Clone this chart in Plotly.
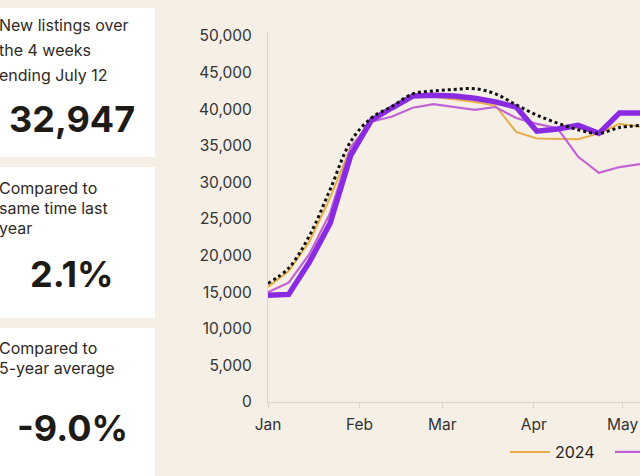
import plotly.graph_objects as go

# week dates (aligned calendar, one point per week)
weeks = ["2025-01-01", "2025-01-08", "2025-01-15", "2025-01-22", "2025-01-29",
         "2025-02-05", "2025-02-12", "2025-02-19", "2025-02-26", "2025-03-05",
         "2025-03-12", "2025-03-19", "2025-03-26", "2025-04-02", "2025-04-09",
         "2025-04-16", "2025-04-23", "2025-04-30", "2025-05-07"]

listings_2025 = [14600, 14700, 19100, 24400, 33700, 38500, 40200, 41800, 41900, 41800,
                 41500, 41000, 40300, 37000, 37300, 37800, 36700, 39500, 39500]
listings_2024 = [15700, 17900, 21900, 27900, 34800, 38500, 40000, 41800, 41700, 41400,
                 41000, 40500, 36900, 36000, 36000, 35900, 36700, 38000, 37600]
listings_2023 = [15000, 16300, 20200, 25800, 34800, 38300, 39000, 40200, 40700, 40300,
                 39900, 40300, 38800, 38000, 37400, 33500, 31300, 32100, 32500]
five_year_avg = [16200, 18300, 22700, 29000, 35600, 38800, 40400, 42100, 42500, 42700,
                 42800, 42100, 40600, 39200, 38100, 37200, 36700, 37500, 37800]

# stat panels
panel_labels = [["New listings over", "the 4 weeks", "ending July 12"],
                ["Compared to", "same time last", "year"],
                ["Compared to", "5-year average"]]
panel_values = ["32,947", "2.1%", "-9.0%"]

BG = "#F5EFE5"
FONT = "Inter"

# plot area in pixels: x 268..640, y 32..402
L, R, T, B = 268, 0, 32, 74
W, H = 640, 476
PW, PH = W - L - R, H - T - B


def px_x(p):
    return (p - L) / PW


def px_y(p):
    return (H - B - p) / PH


fig = go.Figure()

fig.add_trace(go.Scatter(x=weeks, y=listings_2024, name="2024", mode="lines",
                         line=dict(color="#E8AE48", width=2)))
fig.add_trace(go.Scatter(x=weeks, y=listings_2023, name="2023", mode="lines",
                         line=dict(color="#C262D6", width=2.2)))
fig.add_trace(go.Scatter(x=weeks, y=listings_2025, name="2025", mode="lines",
                         line=dict(color="#8A2BE2", width=5.5), showlegend=False))
fig.add_trace(go.Scatter(x=weeks, y=five_year_avg, name="5-year average", mode="lines",
                         line=dict(color="#111111", width=3, dash="dot", shape="spline"),
                         showlegend=False))

# white panels on the left
boxes = [(8, 157), (167, 318), (328, 490)]
for top, bottom in boxes:
    fig.add_shape(type="rect", xref="paper", yref="paper",
                  x0=px_x(-10), x1=px_x(155), y0=px_y(bottom), y1=px_y(top),
                  fillcolor="white", line_width=0, layer="below")

label_rows = [[25, 50, 75], [188, 208, 228], [348, 368]]
value_rows = [119, 274, 428]
for labels, rows, value, vy in zip(panel_labels, label_rows, panel_values, value_rows):
    for txt, ry in zip(labels, rows):
        fig.add_annotation(text=txt, xref="paper", yref="paper", x=px_x(-3), y=px_y(ry),
                           xanchor="left", yanchor="middle", showarrow=False,
                           font=dict(family=FONT, size=16, color="#2E2A26"))
    fig.add_annotation(text="<b>%s</b>" % value, xref="paper", yref="paper",
                       x=px_x(72), y=px_y(vy), xanchor="center", yanchor="middle",
                       showarrow=False, font=dict(family=FONT, size=36, color="#1E1A15"))

fig.update_layout(
    width=W, height=H,
    margin=dict(l=L, r=R, t=T, b=B, autoexpand=False),
    paper_bgcolor=BG, plot_bgcolor=BG,
    font=dict(family=FONT, size=15, color="#333333"),
    showlegend=True,
    legend=dict(orientation="h", x=px_x(505), xanchor="left", y=px_y(435), yanchor="top",
                itemwidth=40, entrywidth=50, entrywidthmode="pixels",
                font=dict(family=FONT, size=16, color="#222222"), bgcolor="rgba(0,0,0,0)"),
    hovermode=False,
)

fig.update_xaxes(type="date", range=["2025-01-01", "2025-05-06 22:00"],
                 tickformat="%b", dtick="M1", tick0="2025-01-01",
                 showgrid=False, zeroline=False, showline=True, linecolor="#DAD4CB",
                 linewidth=1.2, ticks="outside", ticklen=5, tickcolor="#DAD4CB",
                 ticklabelstandoff=3, tickfont=dict(size=15.5, color="#333333"))
fig.update_yaxes(range=[0, 50550], dtick=5000, tickformat=",d",
                 showgrid=False, zeroline=False, showline=True, linecolor="#DAD4CB",
                 linewidth=1.2, ticks="", ticklabelstandoff=12,
                 tickfont=dict(size=15.5, color="#333333"))

# drop the page's default body margin so the figure sits at the window's corner
fig.write_html("out.html", config={"displayModeBar": False},
               post_script="document.body.style.margin='0px';")
